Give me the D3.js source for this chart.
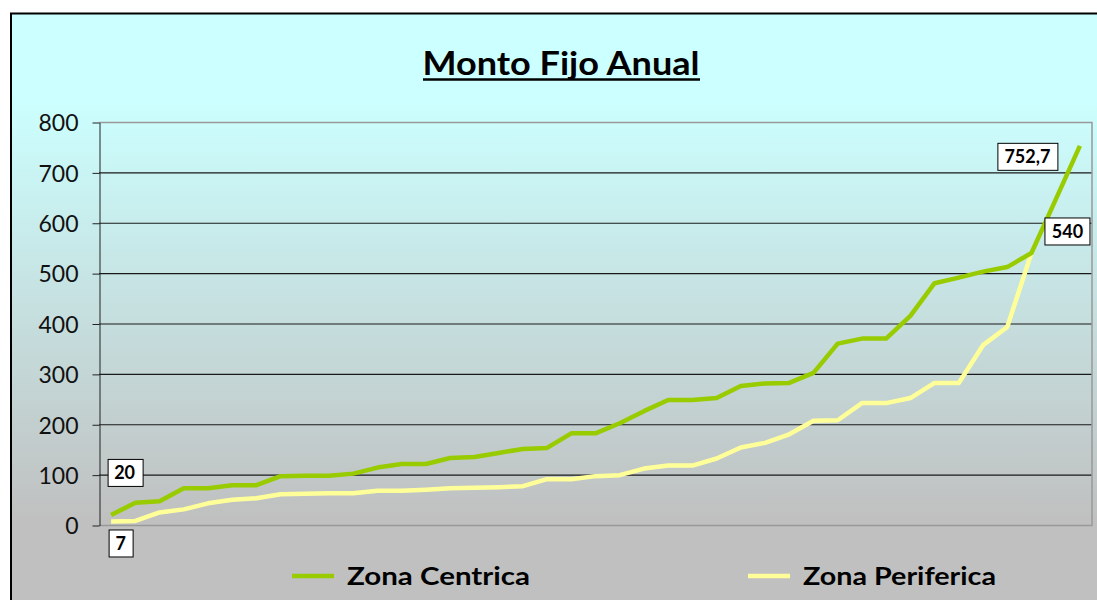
<!DOCTYPE html>
<html>
<head>
<meta charset="utf-8">
<script src="https://cdn.jsdelivr.net/npm/d3@7"></script>
<style>
  html, body { margin: 0; padding: 0; background: #fff; }
  svg { display: block; }
</style>
</head>
<body>
<div id="chart"></div>
<script>
// Values.
const zonaCentrica = [20, 44, 47, 73, 73, 79, 79, 97, 98, 98,
  102, 114, 121, 121, 133, 135, 143, 151, 153, 182,
  182, 202, 226, 248, 248, 252, 276, 281, 282, 302,
  360, 370, 370, 415, 480, 491, 503, 512, 540, 646, 752.7];
const zonaPeriferica = [7, 8, 25, 31, 43, 50, 53, 61, 62, 63,
  63, 68, 68, 70, 73, 74, 75, 77, 91, 91,
  97, 99, 112, 118, 118, 132, 154, 163, 180, 207,
  208, 242, 242, 252, 282, 282, 357, 393, 540];
const yTicks = [0, 100, 200, 300, 400, 500, 600, 700, 800];
const seriesNames = ['Zona Centrica', 'Zona Periferica'];
const seriesColours = ['#99CC00', '#FFFF99'];

const width = 1097;
const height = 600;
const plot = { left: 99, right: 1092, top: 122, bottom: 525 };

const svg = d3.select('#chart')
  .append('svg')
  .attr('width', width)
  .attr('height', height);

// Chart area background: cyan fading into grey.
const grad = svg.append('defs').append('linearGradient')
  .attr('id', 'bg')
  .attr('gradientUnits', 'userSpaceOnUse')
  .attr('x1', 0).attr('y1', 100)
  .attr('x2', 0).attr('y2', 520);
grad.append('stop').attr('offset', '0%').attr('stop-color', '#CCFFFF');
grad.append('stop').attr('offset', '100%').attr('stop-color', '#C0C0C0');

svg.append('rect')
  .attr('x', 11).attr('y', 13.5)
  .attr('width', 1100).attr('height', 600)
  .attr('fill', 'url(#bg)')
  .attr('stroke', '#000')
  .attr('stroke-width', 2);

const x = d3.scalePoint()
  .domain(d3.range(zonaCentrica.length))
  .range([plot.left, plot.right])
  .padding(0.5);

const y = d3.scaleLinear()
  .domain([0, 800])
  .range([plot.bottom, plot.top]);

// Gridlines.
svg.append('g')
  .selectAll('line')
  .data(yTicks.filter(t => t > 0 && t < 800))
  .join('line')
  .attr('x1', plot.left).attr('x2', plot.right)
  .attr('y1', d => y(d) + 0.5).attr('y2', d => y(d) + 0.5)
  .attr('stroke', '#1a1a1a')
  .attr('stroke-width', 1.2);

// Plot area border (top, right, bottom) in grey.
svg.append('path')
  .attr('d', `M${plot.left},${plot.top + 0.5}H${plot.right}V${plot.bottom + 0.5}H${plot.left}`)
  .attr('fill', 'none')
  .attr('stroke', '#999')
  .attr('stroke-width', 1.5);

// Y axis.
const yAxis = svg.append('g')
  .attr('transform', `translate(${plot.left + 0.5},0.5)`)
  .call(d3.axisLeft(y).tickValues(yTicks).tickSize(7).tickPadding(14).tickSizeOuter(0));
yAxis.select('.domain').attr('stroke', '#222');
yAxis.selectAll('.tick line').attr('stroke', '#222');
yAxis.selectAll('text')
  .attr('fill', '#111')
  .style('font-family', 'Lato, "DejaVu Sans", sans-serif')
  .style('font-size', '23px')
  .attr('dy', '0.36em');

// Lines.
const line = d3.line()
  .x((d, i) => x(i))
  .y(d => y(d));

const seriesData = [zonaCentrica, zonaPeriferica];
svg.append('g')
  .selectAll('path')
  .data([1, 0])
  .join('path')
  .attr('d', s => line(seriesData[s]))
  .attr('fill', 'none')
  .attr('stroke', s => seriesColours[s])
  .attr('stroke-width', 4.5)
  .attr('stroke-linejoin', 'round');

// Data labels for first and last values.
const labels = [
  { s: 0, i: 0, dx: 13.5, dy: -42 },
  { s: 1, i: 0, dx: 9.5, dy: 22 },
  { s: 0, i: zonaCentrica.length - 1, dx: -52.5, dy: 11 },
  { s: 1, i: zonaPeriferica.length - 1, dx: 36, dy: -21.5 }
];
const fmt = v => String(v).replace('.', ',');

const lab = svg.append('g')
  .selectAll('g')
  .data(labels)
  .join('g')
  .attr('transform', d => `translate(${x(d.i) + d.dx},${y(seriesData[d.s][d.i]) + d.dy})`);

lab.append('text')
  .text(d => fmt(seriesData[d.s][d.i]))
  .attr('text-anchor', 'middle')
  .attr('dy', '0.36em')
  .attr('fill', '#000')
  .style('font-family', 'Lato, "DejaVu Sans", sans-serif')
  .style('font-weight', 'bold')
  .style('font-size', '18px');

lab.each(function() {
  const g = d3.select(this);
  const bb = g.select('text').node().getBBox();
  g.insert('rect', 'text')
    .attr('x', Math.round(bb.x - 7) + 0.5)
    .attr('y', -13.5)
    .attr('width', Math.round(bb.width + 14))
    .attr('height', 27)
    .attr('fill', '#fff')
    .attr('stroke', '#000')
    .attr('stroke-width', 1);
});

// Title.
svg.append('text')
  .attr('x', 561)
  .attr('y', 75)
  .attr('text-anchor', 'middle')
  .attr('textLength', 277)
  .attr('lengthAdjust', 'spacingAndGlyphs')
  .attr('fill', '#000')
  .style('font-family', 'Lato, "DejaVu Sans", sans-serif')
  .style('font-weight', 'bold')
  .style('font-size', '33px')
  .text('Monto Fijo Anual');
svg.append('line')
  .attr('x1', 423).attr('x2', 700)
  .attr('y1', 79.5).attr('y2', 79.5)
  .attr('stroke', '#000')
  .attr('stroke-width', 2.5);

// Legend.
const legendItems = [
  { name: seriesNames[0], colour: seriesColours[0], x: 292, w: 183 },
  { name: seriesNames[1], colour: seriesColours[1], x: 748, w: 193 }
];
const leg = svg.append('g')
  .selectAll('g')
  .data(legendItems)
  .join('g')
  .attr('transform', d => `translate(${d.x},576)`);
leg.append('line')
  .attr('x1', 0).attr('x2', 42)
  .attr('stroke', d => d.colour)
  .attr('stroke-width', 4.5);
leg.append('text')
  .attr('x', 55)
  .attr('y', 9)
  .attr('textLength', d => d.w)
  .attr('lengthAdjust', 'spacingAndGlyphs')
  .attr('fill', '#000')
  .style('font-family', 'Lato, "DejaVu Sans", sans-serif')
  .style('font-weight', 'bold')
  .style('font-size', '24px')
  .text(d => d.name);
</script>
</body>
</html>
